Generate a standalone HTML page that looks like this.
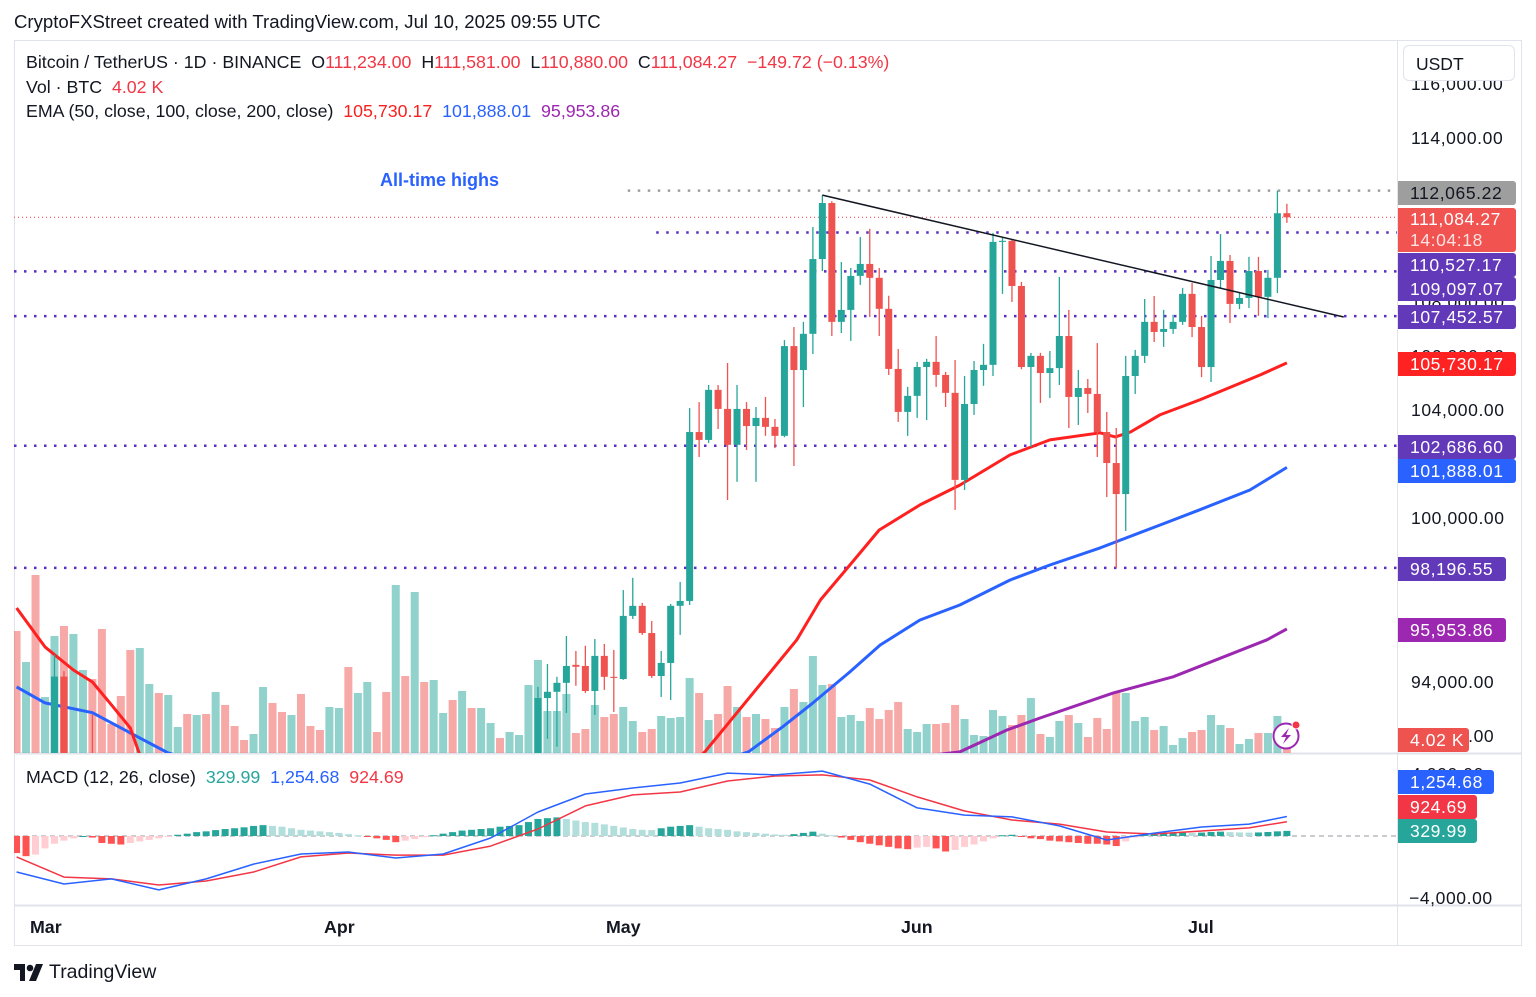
<!DOCTYPE html>
<html><head><meta charset="utf-8"><title>BTCUSDT chart</title>
<style>
html,body{margin:0;padding:0;background:#fff;}
body{width:1536px;height:997px;position:relative;overflow:hidden;font-family:"Liberation Sans",sans-serif;color:#131722;}
.t{position:absolute;white-space:nowrap;font-size:17.8px;line-height:20px;}
.lbl{position:absolute;left:1398px;height:24px;line-height:24px;font-size:17.5px;color:#fff;padding-left:12px;box-sizing:border-box;border-radius:0 3px 3px 0;white-space:nowrap;letter-spacing:0.6px;overflow:hidden}
.tick{position:absolute;left:1411px;font-size:17.5px;line-height:20px;color:#131722;white-space:nowrap;letter-spacing:0.6px}
svg{position:absolute;left:0;top:0;}
</style></head>
<body>
<div class="t" style="left:14px;top:12px;font-size:18.6px;">CryptoFXStreet created with TradingView.com, Jul 10, 2025 09:55 UTC</div>

<svg id="chart" width="1536" height="997">
  <defs>
    <clipPath id="cp"><rect x="14" y="40" width="1383" height="713"/></clipPath>
    <clipPath id="cm"><rect x="14" y="754" width="1383" height="151"/></clipPath>
  </defs>
  <rect x="14.5" y="40.5" width="1507" height="905" fill="none" stroke="#e0e3eb"/>
  <line x1="1397.5" y1="40" x2="1397.5" y2="946" stroke="#e0e3eb"/>
  <line x1="14" y1="753.5" x2="1522" y2="753.5" stroke="#e0e3eb" stroke-width="2"/>
  <line x1="14" y1="905.5" x2="1522" y2="905.5" stroke="#e0e3eb" stroke-width="2"/>
  <g id="vol" clip-path="url(#cp)"></g>
  <g id="levels" clip-path="url(#cp)"></g>
  <g id="emas" clip-path="url(#cp)"></g>
  <g id="candles" clip-path="url(#cp)"></g>
  <g id="trend" clip-path="url(#cp)"></g>
  <g id="macd" clip-path="url(#cm)"></g>
</svg>

<div class="t" style="left:26px;top:52px;">Bitcoin / TetherUS · 1D · BINANCE&nbsp; O<span style="color:#f23645">111,234.00</span>&nbsp; H<span style="color:#f23645">111,581.00</span>&nbsp; L<span style="color:#f23645">110,880.00</span>&nbsp; C<span style="color:#f23645">111,084.27</span>&nbsp; <span style="color:#f23645">−149.72 (−0.13%)</span></div>
<div class="t" style="left:26px;top:77px;">Vol · BTC&nbsp; <span style="color:#f23645">4.02 K</span></div>
<div class="t" style="left:26px;top:101px;">EMA (50, close, 100, close, 200, close)&nbsp; <span style="color:#f7221f">105,730.17</span>&nbsp; <span style="color:#2962ff">101,888.01</span>&nbsp; <span style="color:#9c27b0">95,953.86</span></div>
<div class="t" style="left:380px;top:170px;color:#2962ff;font-weight:bold;font-size:18px;">All-time highs</div>
<div class="t" style="left:26px;top:767px;">MACD (12, 26, close)&nbsp; <span style="color:#26a69a">329.99</span>&nbsp; <span style="color:#2962ff">1,254.68</span>&nbsp; <span style="color:#f23645">924.69</span></div>

<div class="tick" style="top:74px">116,000.00</div>
<div style="position:absolute;left:1403px;top:45px;width:112px;height:36px;border:1px solid #e0e3eb;border-radius:6px;background:#fff;font-size:17.5px;line-height:36px;padding-left:12px;box-sizing:border-box;">USDT</div>
<div class="tick" style="top:128px">114,000.00</div>
<div class="tick" style="top:292px">108,000.00</div>
<div class="tick" style="top:346px">106,000.00</div>
<div class="tick" style="top:400px">104,000.00</div>
<div class="tick" style="top:508px">100,000.00</div>
<div class="tick" style="top:672px">94,000.00</div>
<div class="tick" style="top:726px">92,000.00</div>
<div class="tick" style="top:764px">4,000.00</div>
<div class="tick" style="top:888px;left:1409px">−4,000.00</div>

<div class="lbl" style="top:181px;width:118px;background:#9e9e9e;color:#131722;">112,065.22</div>
<div class="lbl" style="top:208px;height:44px;width:118px;background:#f05350;line-height:21px;padding-top:1px;">111,084.27<br><span style="color:#fde2e2">14:04:18</span></div>
<div class="lbl" style="top:253px;width:118px;background:#6239b8;">110,527.17</div>
<div class="lbl" style="top:277px;width:118px;background:#6239b8;">109,097.07</div>
<div class="lbl" style="top:305px;width:118px;background:#6239b8;">107,452.57</div>
<div class="lbl" style="top:352px;width:118px;background:#ff2222;">105,730.17</div>
<div class="lbl" style="top:435px;width:118px;background:#6239b8;">102,686.60</div>
<div class="lbl" style="top:459px;width:118px;background:#2962ff;">101,888.01</div>
<div class="lbl" style="top:557px;width:108px;background:#6239b8;">98,196.55</div>
<div class="lbl" style="top:618px;width:108px;background:#9c27b0;">95,953.86</div>
<div class="lbl" style="top:728px;width:71px;background:#ef5350;">4.02 K</div>
<div class="lbl" style="top:770px;width:96px;background:#2962ff;">1,254.68</div>
<div class="lbl" style="top:795px;width:79px;background:#f23645;">924.69</div>
<div class="lbl" style="top:819px;width:79px;background:#26a69a;">329.99</div>

<div class="t" style="left:30px;top:917px;font-weight:bold;">Mar</div>
<div class="t" style="left:324px;top:917px;font-weight:bold;">Apr</div>
<div class="t" style="left:606px;top:917px;font-weight:bold;">May</div>
<div class="t" style="left:901px;top:917px;font-weight:bold;">Jun</div>
<div class="t" style="left:1188px;top:917px;font-weight:bold;">Jul</div>

<svg width="34" height="20" style="left:14px;top:963px">
  <path d="M0 1h11v17h-5v-11h-6z" fill="#131722"/><circle cx="16" cy="5" r="3.3" fill="#131722"/><path d="M22 1h7l-7 17h-7z" fill="#131722"/>
</svg>
<div class="t" style="left:49px;top:962px;font-size:19.5px;">TradingView</div>

<svg width="32" height="32" style="left:1270px;top:720px">
  <circle cx="16" cy="16" r="12.5" fill="#fff" stroke="#9c27b0" stroke-width="2"/>
  <path d="M19 8l-8 9h5l-3 7 8-9h-5z" fill="#9c27b0"/>
  <circle cx="26" cy="5" r="4" fill="#f23645" stroke="#fff" stroke-width="1"/>
</svg>

<script>
// ---- data ----
const open=[88700,84700,84900,84400,86100,94200,86100,87200,90600,89900,86700,86200,80700,78500,82900,83700,81100,84000,84300,82600,84100,82700,86900,84200,84100,83800,86100,87500,87400,86900,87200,84400,82600,82400,82500,85200,82500,83100,83800,83500,78400,79200,76300,82600,79600,83400,85300,83700,84500,83600,84000,84900,84400,85000,85200,
87500,93410,93640,93970,94630,94590,93670,94960,94190,94110,96430,96800,95800,94220,94700,96800,96980,103190,102900,104740,104040,102720,104040,103410,103710,103380,103050,106350,105470,106800,109550,111610,107240,107680,108930,109370,108860,107720,105510,103930,104520,105580,105770,105290,104630,101430,104220,105470,105660,110180,110220,108560,105580,105990,105360,105540,106720,104480,104810,104590,103190,102050,100910,105250,105990,107240,106870,106980,107240,108270,107050,105580,108780,109480,107900,108120,109110,108160,108860,111234];
const high=[89300,87100,85100,86600,95000,94400,88900,91000,92800,91300,86900,86500,83900,83600,84400,84300,85300,84700,85100,84700,84100,87400,87400,84900,84500,86100,88800,88600,88300,87800,87500,84600,83500,83900,85600,88500,83900,84700,84300,83800,81200,80800,83500,82700,84300,85900,86100,85800,86500,85500,85500,85100,85600,85300,88500,
93820,94660,94190,95690,95140,95330,95580,95400,95180,97380,97830,96910,96240,95140,96870,97680,104070,104290,104920,104920,105730,104920,104290,104110,104480,103670,106570,107050,107240,110730,111900,111680,109440,109220,110360,110660,109220,108200,106240,104850,105770,105880,106720,105400,105840,105250,105800,106430,110510,110330,110250,108710,106100,106100,106170,108890,107680,105470,105140,106460,103930,103340,105990,106210,108080,108190,107680,107500,108490,108670,107460,109660,110470,109700,108300,109630,109630,109150,112065,111581];
const low=[82300,82800,78300,83500,85100,85100,81500,86300,87800,84700,85300,80000,77500,76600,80600,79900,80800,83600,82000,82400,81100,82500,83700,83200,83600,83300,85600,86300,85900,85800,83600,81600,81600,81300,82400,82300,81200,81700,82400,77200,74500,76200,74600,78500,78900,82800,83000,83700,83600,83100,83800,84300,84400,83900,85100,
87000,91910,91620,92860,93860,93600,92790,93710,92900,94080,96320,95730,94150,93450,93340,95730,96830,102270,102790,103300,100690,101360,102530,101360,103050,102600,103000,101940,104110,106060,109110,106720,106830,106540,108600,107420,106720,105290,103560,103050,103710,103630,104850,104110,100330,101060,103820,104890,105250,108270,107970,105500,102640,104260,104440,104920,103340,103450,103890,102270,100800,98190,99550,104590,105730,106500,106320,106800,107130,106680,105210,105030,108490,107200,107710,107750,107460,107380,108300,110880];
const close=[84700,84900,84400,86100,94200,86100,87200,90600,89900,86700,86200,80700,78500,82900,83700,81100,84000,84300,82600,84100,82700,86900,84200,84100,83800,86100,87500,87400,86900,87200,84400,82600,82400,82500,85200,82500,83100,83800,83500,78400,79200,76300,82600,79600,83400,85300,83700,84500,83600,84000,84900,84400,85000,85200,87500,
93410,93640,93970,94590,94560,93670,94960,94190,94150,96430,96800,95800,94220,94700,96800,96980,103190,102900,104740,104040,102720,104040,103410,103710,103380,103050,106350,105470,106800,109550,111610,107240,107680,108930,109370,108860,107720,105510,103930,104520,105580,105770,105290,104630,101430,104220,105470,105660,110180,110220,108560,105580,105990,105360,105540,106720,104480,104810,104590,103190,102050,100910,105250,105990,107240,106870,106980,107240,108270,107050,105580,108780,109480,107900,108120,109110,108160,108860,111234,111084];
const volume=[122,91,178,56,117,127,119,83,74,124,29,57,103,105,69,60,58,26,39,38,39,61,48,27,13,19,66,50,41,38,59,27,23,46,45,86,60,71,21,61,168,77,161,
71,73,40,53,62,45,45,30,15,21,18,68,
93,42,42,59,20,24,48,36,39,
46,32,21,24,37,35,36,75,60,33,39,67,46,36,39,34,25,46,64,51,97,68,69,36,38,32,45,34,43,51,24,
21,29,29,30,48,34,18,17,43,37,28,38,55,19,16,32,38,30,16,35,24,61,60,32,36,23,27,8,15,21,
23,38,28,25,9,14,20,20,37,5];
const ema50Idx=[0,3,6,8,10,12,13,40,60,72.6,82.3,84.8,87.9,91,95.3,99.5,104.8,109,114.3,115.9,117.5,120.6,124.8,131.2,134];
const ema50=[96720,95290,94440,94000,93160,92310,91320,86000,87500,91430,95550,97020,98300,99590,100510,101240,102350,102900,103160,103010,103190,103820,104370,105290,105730];
const ema100Idx=[0,3,8,12,16,40,60,77.2,80.8,84,87.9,91.1,95.3,99.5,104.8,109,114.3,120.6,124.8,130.1,134];
const ema100=[93820,93230,92870,92130,91390,89000,89500,91430,92350,93230,94370,95360,96280,96830,97750,98300,98930,99770,100330,101060,101888];
const ema200Idx=[0,60,99.5,104.5,108,115.7,122,131.9,134];
const ema200=[88000,89800,91430,92240,92680,93600,94190,95550,95954];
const macdIdx=[0,5,10,15,20,25,30,35,40,45,50,55,60,65,70,75,80,85,90,95,100,105,110,115,120,125,130,134];
const macdLine=[-2320,-3100,-2770,-3480,-2770,-1810,-1160,-1030,-1420,-1160,-130,1550,2710,3100,3420,4060,3940,4190,3350,1810,1350,1230,650,-260,190,580,770,1255];
const signalLine=[-1350,-2650,-2770,-3160,-2900,-2320,-1350,-1100,-1230,-1230,-650,450,1940,2650,2840,3550,3870,3940,3610,2520,1610,1030,770,260,130,320,520,925];
const hist=[-1100,-1300,-1200,-800,-500,-300,-150,0,-100,-450,-500,-550,-450,-350,-250,-150,-50,80,150,250,300,380,450,500,560,650,700,650,600,500,400,350,300,250,200,120,50,-50,-150,-250,-400,-300,-200,-80,50,150,250,350,400,450,500,600,650,700,900,1100,1150,1200,1100,1000,900,850,750,650,550,450,400,380,500,600,650,700,600,500,450,400,300,250,200,150,100,80,120,200,280,150,50,-100,-250,-400,-500,-600,-700,-800,-850,-750,-700,-800,-1000,-900,-700,-550,-350,-150,50,80,-50,-150,-200,-300,-350,-400,-450,-500,-500,-550,-650,-350,-100,80,150,200,230,230,200,220,260,280,250,230,220,230,260,300,330];
const levels=[110527.17,109097.07,107452.57,102686.60,98196.55];
const levelStart=[68,0,0,0,0];
const athLevel=112065.22, athStart=65;
const lastPrice=111084.27;
const trendIdx=[85,140], trendPrice=[111900,107420];

// ---- axis functions ----
const X=i=>16.56+9.48*i;
const Y=p=>138+(114000-p)*0.0272;
const VY=v=>753-v;
const MY=v=>836-v*0.0155;
const NS='http://www.w3.org/2000/svg';
function mk(tag,attrs,parent){const e=document.createElementNS(NS,tag);for(const k in attrs)e.setAttribute(k,attrs[k]);parent.appendChild(e);return e;}
const G=id=>document.getElementById(id);
const UP='#26a69a',DN='#ef5350';

for(let i=0;i<volume.length;i++){
  const up=close[i]>=open[i];
  const r=mk('rect',{x:X(i)-4,y:VY(volume[i]),width:8,height:volume[i],fill:up?'rgba(38,166,154,0.5)':'rgba(239,83,80,0.5)'},G('vol'));
  
  
}
levels.forEach((p,k)=>{
  const x1=levelStart[k]===0?14:X(levelStart[k])-5;
  const l=mk('line',{x1:x1,x2:1397,y1:Y(p),y2:Y(p),stroke:'#5b2fc2','stroke-width':2.5,'stroke-dasharray':'2.5 7.5'},G('levels'));
  
  
});
{
  const l=mk('line',{x1:X(athStart)-5,x2:1397,y1:Y(athLevel),y2:Y(athLevel),stroke:'#9e9e9e','stroke-width':2.5,'stroke-dasharray':'2.5 7.5'},G('levels'));
  
  
  const c=mk('line',{x1:14,x2:1397,y1:Y(lastPrice),y2:Y(lastPrice),stroke:'#f23645','stroke-width':1,'stroke-dasharray':'1 3'},G('levels'));
  
  
}
function line(idx,vals,fy,color,w,parent,name){
  const d=idx.map((t,k)=>(k?'L':'M')+X(t).toFixed(1)+' '+fy(vals[k]).toFixed(1)).join(' ');
  const p=mk('path',{d:d,fill:'none',stroke:color,'stroke-width':w,'stroke-linejoin':'round'},parent);
  
  
}
line(ema200Idx,ema200,Y,'#9c27b0',3,G('emas'),'ema200-line');
line(ema100Idx,ema100,Y,'#2962ff',3,G('emas'),'ema100-line');
line(ema50Idx,ema50,Y,'#ff2020',3,G('emas'),'ema50-line');
for(let i=0;i<open.length;i++){
  const up=close[i]>=open[i],c=up?UP:DN;
  const g=mk('g',{},G('candles'));
  
  
  mk('line',{x1:X(i),x2:X(i),y1:Y(high[i]),y2:Y(low[i]),stroke:c,'stroke-width':1.3},g);
  const t=Y(Math.max(open[i],close[i])),b=Y(Math.min(open[i],close[i]));
  mk('rect',{x:X(i)-3.5,y:t,width:7,height:Math.max(1,b-t),fill:c},g);
}
{
  const l=mk('line',{x1:X(trendIdx[0]),y1:Y(trendPrice[0]),x2:X(trendIdx[1]),y2:Y(trendPrice[1]),stroke:'#131722','stroke-width':1.5},G('trend'));
  
  
}
{
  const z=mk('line',{x1:14,x2:1397,y1:836,y2:836,stroke:'#9598a1','stroke-width':1,'stroke-dasharray':'5 4'},G('macd'));
  
  
  for(let i=0;i<hist.length;i++){
    const v=hist[i],pv=i?hist[i-1]:v;
    let col;
    if(v>=0) col=v>=pv?'#26a69a':'#b2dfdb'; else col=v<=pv?'#ff5252':'#ffcdd2';
    const y0=MY(0),y1=MY(v);
    const r=mk('rect',{x:X(i)-3.5,y:Math.min(y0,y1),width:7,height:Math.max(1,Math.abs(y1-y0)),fill:col},G('macd'));
    
    
  }
  line(macdIdx,signalLine,MY,'#f23645',1.5,G('macd'),'macd-signal-line');
  line(macdIdx,macdLine,MY,'#2962ff',1.5,G('macd'),'macd-line');
}
</script>
</body></html>
